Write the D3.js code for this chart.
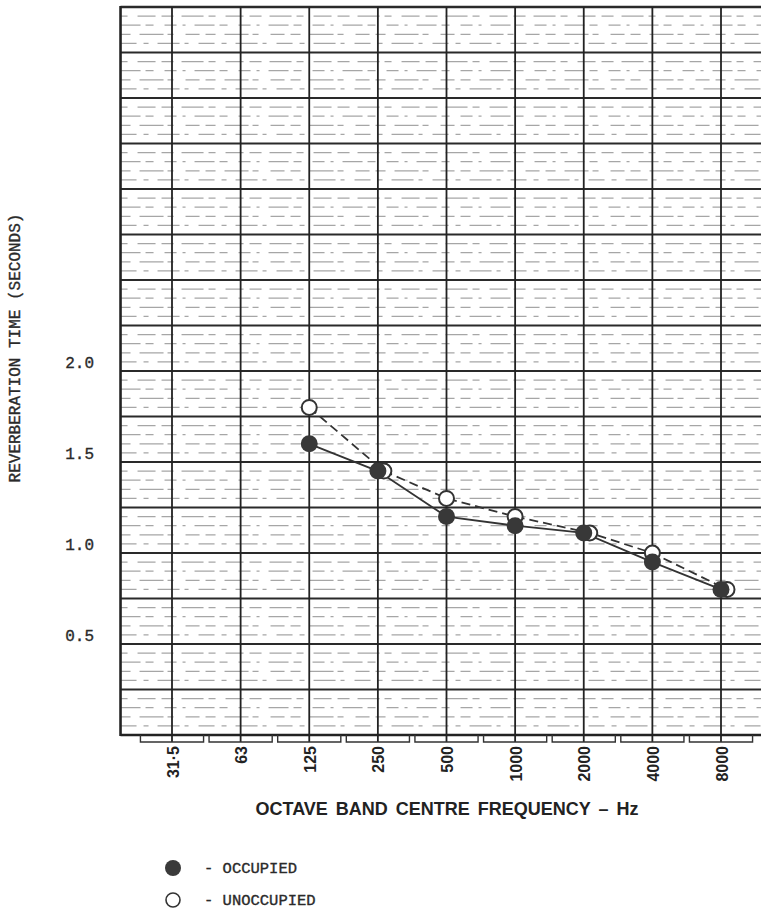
<!DOCTYPE html>
<html>
<head>
<meta charset="utf-8">
<script src="https://cdn.jsdelivr.net/npm/d3@7"></script>
<style>
  html, body { margin: 0; padding: 0; background: #fff; }
  svg { display: block; }
  .mono { font-family: "Courier New", "Liberation Mono", monospace; fill: #2a2a2a; stroke: #2a2a2a; stroke-width: 0.35px; }
  .sans { font-family: Arial, "Liberation Sans", Helvetica, sans-serif; font-weight: bold; fill: #222; }
</style>
</head>
<body>
<svg id="chart" width="761" height="909"></svg>
<script>
// octave band centres and reverberation times (seconds)
const freqLabels = ["31·5", "63", "125", "250", "500", "1000", "2000", "4000", "8000"];
const occupied   = [null, null, 1.60, 1.45, 1.20, 1.15, 1.11, 0.95, 0.80];
const unoccupied = [null, null, 1.80, 1.45, 1.30, 1.20, 1.11, 1.00, 0.80];
const yLabels = [0.5, 1.0, 1.5, 2.0];

const width = 761, height = 909;
const plotTop = 7, plotBottom = 735;

const svg = d3.select("#chart");

const x = d3.scalePoint().domain(freqLabels).range([172, 721]);
const step = x.step();
const plotLeft = x(freqLabels[0]) - 0.75 * step;

const y = d3.scaleLinear().domain([0, 4]).range([plotBottom, plotTop]);

// Graph paper grid
const grid = svg.append("g");

// faint broken minor lines, every 0.05 s
const minorTicks = d3.range(0, 4.0001, 0.05).filter(v => Math.abs(v / 0.25 - Math.round(v / 0.25)) > 0.01);
const dashes = ["16,7,5,9,22,5,4,10", "10,9,24,4,6,12,14,6", "20,5,8,11,12,6,3,9", "7,10,18,6,12,8,22,5"];
grid.selectAll(".minor")
    .data(minorTicks)
    .enter().append("line")
    .attr("x1", plotLeft).attr("x2", width)
    .attr("y1", d => y(d)).attr("y2", d => y(d))
    .attr("stroke", "#a6a6a6")
    .attr("stroke-width", 1.2)
    .attr("stroke-dasharray", (d, i) => dashes[i % dashes.length]);

const majorTicks = d3.range(0.25, 4.0001, 0.25);
grid.selectAll(".major")
    .data(majorTicks)
    .enter().append("line")
    .attr("x1", plotLeft).attr("x2", width)
    .attr("y1", d => y(d)).attr("y2", d => y(d))
    .attr("stroke", "#2a2a2a")
    .attr("stroke-width", d => d === 4 ? 2.6 : 2);

// bottom edge
grid.append("line")
    .attr("x1", plotLeft).attr("x2", width)
    .attr("y1", y(0)).attr("y2", y(0))
    .attr("stroke", "#222").attr("stroke-width", 2.4);

// left edge
grid.append("line")
    .attr("x1", plotLeft).attr("x2", plotLeft)
    .attr("y1", plotTop - 1).attr("y2", plotBottom + 1)
    .attr("stroke", "#222").attr("stroke-width", 2.6);

// vertical lines at each octave centre, running into the bracket
grid.selectAll(".vline")
    .data(freqLabels)
    .enter().append("line")
    .attr("x1", d => x(d)).attr("x2", d => x(d))
    .attr("y1", plotTop).attr("y2", plotBottom + 7)
    .attr("stroke", "#222")
    .attr("stroke-width", 1.8);

// octave band brackets under the plot
const half = step * 0.46;
grid.selectAll(".bracket")
    .data(freqLabels)
    .enter().append("path")
    .attr("d", d => `M${x(d) - half},${plotBottom} V${plotBottom + 7} H${x(d) + half} V${plotBottom}`)
    .attr("fill", "none")
    .attr("stroke", "#333")
    .attr("stroke-width", 1.4);

// x tick labels, rotated
svg.append("g").selectAll("text")
    .data(freqLabels)
    .enter().append("text")
    .attr("class", "sans")
    .attr("transform", d => `translate(${x(d) + 1},${plotBottom + 11}) rotate(-90)`)
    .attr("text-anchor", "end")
    .attr("dominant-baseline", "central")
    .style("font-size", "16px")
    .text(d => d);

// y tick labels
svg.append("g").selectAll("text")
    .data(yLabels)
    .enter().append("text")
    .attr("class", "mono")
    .attr("x", 94)
    .attr("y", d => y(d) - 3)
    .attr("text-anchor", "end")
    .style("font-size", "16px")
    .text(d => d.toFixed(1));

// axis titles
svg.append("text")
    .attr("class", "mono")
    .attr("transform", "translate(20,348) rotate(-90)")
    .attr("text-anchor", "middle")
    .style("font-size", "16px")
    .text("REVERBERATION TIME (SECONDS)");

svg.append("text")
    .attr("class", "sans")
    .attr("x", 447)
    .attr("y", 815)
    .attr("text-anchor", "middle")
    .style("font-size", "18px")
    .style("word-spacing", "3px")
    .text("OCTAVE BAND CENTRE FREQUENCY – Hz");

// series
const nudge = 6; // open circle drawn beside the filled one where they coincide
const occPts = freqLabels.map((f, i) => ({ f, v: occupied[i] })).filter(d => d.v != null);
const unoccPts = freqLabels.map((f, i) => ({
    f, v: unoccupied[i],
    dx: (occupied[i] != null && Math.abs(occupied[i] - unoccupied[i]) < 0.02) ? nudge : 0
})).filter(d => d.v != null);

const line = d3.line().x(d => x(d.f) + (d.dx || 0)).y(d => y(d.v));

svg.append("path")
    .datum(unoccPts)
    .attr("d", line)
    .attr("fill", "none")
    .attr("stroke", "#333")
    .attr("stroke-width", 1.8)
    .attr("stroke-dasharray", "9,5");

svg.append("path")
    .datum(occPts)
    .attr("d", line)
    .attr("fill", "none")
    .attr("stroke", "#333")
    .attr("stroke-width", 1.8);

svg.append("g").selectAll("circle")
    .data(unoccPts)
    .enter().append("circle")
    .attr("cx", d => x(d.f) + d.dx)
    .attr("cy", d => y(d.v))
    .attr("r", 7.5)
    .attr("fill", "#fff")
    .attr("stroke", "#333")
    .attr("stroke-width", 2);

svg.append("g").selectAll("circle")
    .data(occPts)
    .enter().append("circle")
    .attr("cx", d => x(d.f))
    .attr("cy", d => y(d.v))
    .attr("r", 8.5)
    .attr("fill", "#383838");

// legend
const legend = svg.append("g");
legend.append("circle")
    .attr("cx", 173).attr("cy", 868).attr("r", 8)
    .attr("fill", "#3a3a3a");
legend.append("circle")
    .attr("cx", 173).attr("cy", 900).attr("r", 7)
    .attr("fill", "#fff").attr("stroke", "#333").attr("stroke-width", 1.6);
legend.append("text")
    .attr("class", "mono")
    .attr("x", 204).attr("y", 873)
    .style("font-size", "15.5px")
    .text("- OCCUPIED");
legend.append("text")
    .attr("class", "mono")
    .attr("x", 204).attr("y", 905)
    .style("font-size", "15.5px")
    .text("- UNOCCUPIED");
</script>
</body>
</html>
